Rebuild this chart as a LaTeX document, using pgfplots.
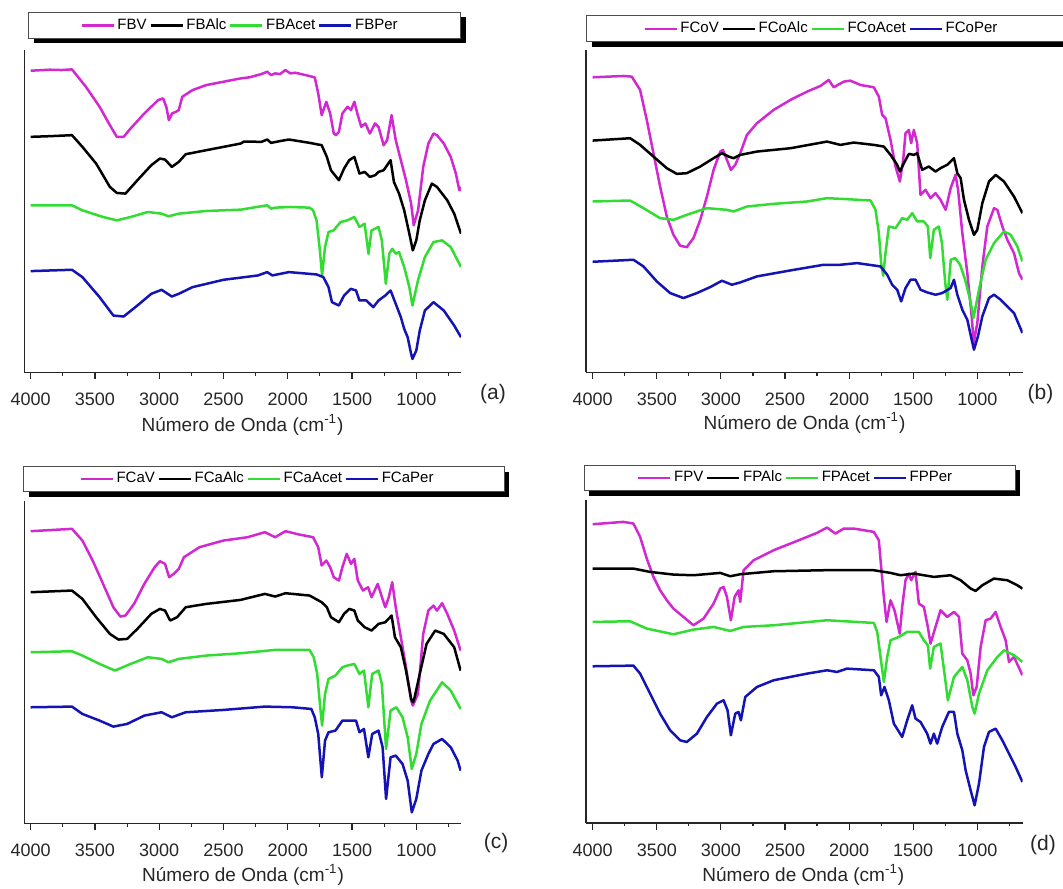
\documentclass[border=0pt]{standalone}
\usepackage{pgfplots}
\pgfplotsset{compat=1.18}
\usepackage{fontspec}
\setmainfont{Liberation Sans}
\definecolor{cmag}{RGB}{210,40,210}
\definecolor{cgrn}{RGB}{50,220,50}
\definecolor{cblu}{RGB}{20,20,180}
\pgfplotsset{ftir/.style={
  scale only axis, width=218.35pt, height=161.15pt,
  x dir=reverse,
  axis x line=bottom, axis y line=left,
  axis line style={-, line width=0.6pt, black!85},
  ytick=\empty,
  xtick={1000,1500,2000,2500,3000,3500,4000},
  minor xtick={750,1250,1750,2250,2750,3250,3750},
  tick align=outside, major tick length=3.3pt, minor tick length=1.7pt,
  tick style={line width=0.6pt, black!85},
  /pgf/number format/assume math mode=true,
  /pgf/number format/1000 sep={},
  xticklabel style={font=\fontsize{9}{10}\selectfont, text=black!85, yshift=-3.5pt},
  legend columns=4,
  legend cell align=left,
  legend style={draw=none, fill=none, anchor=center,
    font=\fontsize{7.5}{8}\selectfont, inner sep=0pt,
    nodes={inner xsep=1.4pt, inner ysep=1pt},
    /tikz/every even column/.append style={column sep=0pt}},
  legend image code/.code={\draw[#1,line width=1.1pt] (0pt,0pt) -- (16pt,0pt);},
  every axis plot/.append style={line width=1.25pt, line join=round},
}}
\begin{document}
\begin{tikzpicture}
\useasboundingbox (0pt,0pt) rectangle (531.5pt,-444pt);
% legend frames with shadows
\fill[black] (17.15pt,-8.65pt) rectangle (233pt,-21.65pt);
\draw[fill=white, draw=black!70, line width=0.5pt] (14.15pt,-6.15pt) rectangle (230pt,-19.15pt);
\fill[black] (295.85pt,-10.5pt) rectangle (540pt,-23.35pt);
\draw[fill=white, draw=black!70, line width=0.5pt] (293.35pt,-8pt) rectangle (537pt,-20.85pt);
\fill[black] (14.65pt,-235.85pt) rectangle (254.65pt,-248.35pt);
\draw[fill=white, draw=black!70, line width=0.5pt] (11.65pt,-233.35pt) rectangle (252pt,-245.5pt);
\fill[black] (294.65pt,-235pt) rectangle (510pt,-247.85pt);
\draw[fill=white, draw=black!70, line width=0.5pt] (292.15pt,-232.5pt) rectangle (507.5pt,-245.35pt);

% ---------- (a)
\begin{axis}[ftir, at={(12.15pt,-186.15pt)}, anchor=south west,
  xmin=652, xmax=4050, ymin=-1115, ymax=-150,
  legend style={at={(0.495,1.076)}}]
\addplot[cmag] coordinates {(4000,-212)(3850,-209)(3760,-210)(3679,-208)(3571,-260)(3464,-320)(3384,-375)(3330,-410)(3277,-410)(3223,-385)(3116,-340)(3009,-300)(2970,-295)(2945,-320)(2925,-360)(2900,-340)(2870,-335)(2848,-330)(2821,-290)(2741,-270)(2634,-255)(2500,-245)(2366,-235)(2300,-232)(2205,-222)(2160,-215)(2130,-225)(2098,-220)(2060,-222)(2018,-210)(1980,-220)(1941,-218)(1830,-228)(1790,-232)(1763,-280)(1736,-345)(1700,-305)(1670,-340)(1642,-400)(1625,-405)(1602,-395)(1575,-340)(1535,-320)(1508,-330)(1482,-305)(1455,-345)(1428,-380)(1396,-370)(1361,-400)(1321,-370)(1294,-380)(1254,-435)(1227,-420)(1192,-345)(1160,-420)(1120,-480)(1080,-540)(1040,-610)(1020,-675)(986,-630)(946,-500)(906,-430)(866,-400)(839,-405)(786,-430)(732,-470)(692,-520)(665,-570)(652,-560)};
\addlegendentry{FBV}
\addplot[black] coordinates {(4000,-410)(3850,-408)(3679,-405)(3598,-440)(3491,-490)(3384,-560)(3330,-578)(3263,-580)(3170,-540)(3062,-495)(2995,-475)(2955,-478)(2902,-500)(2848,-485)(2794,-462)(2634,-450)(2500,-440)(2366,-430)(2340,-424)(2205,-425)(2160,-418)(2130,-428)(2050,-422)(1991,-418)(1830,-428)(1736,-435)(1696,-470)(1664,-510)(1602,-540)(1562,-505)(1522,-480)(1482,-470)(1442,-520)(1402,-515)(1361,-530)(1321,-525)(1294,-515)(1254,-510)(1200,-480)(1174,-545)(1134,-580)(1094,-630)(1054,-700)(1027,-750)(1000,-720)(973,-660)(933,-600)(879,-550)(839,-560)(759,-600)(705,-640)(652,-700)};
\addlegendentry{FBAlc}
\addplot[cgrn] coordinates {(4000,-615)(3679,-615)(3598,-630)(3437,-650)(3330,-660)(3223,-650)(3089,-635)(2982,-640)(2928,-648)(2848,-640)(2634,-632)(2366,-628)(2160,-615)(2130,-625)(2098,-622)(1980,-620)(1830,-622)(1803,-630)(1776,-660)(1750,-750)(1733,-825)(1710,-740)(1683,-695)(1643,-690)(1589,-665)(1536,-660)(1482,-650)(1442,-680)(1402,-670)(1372,-760)(1348,-690)(1294,-680)(1268,-720)(1237,-850)(1210,-760)(1187,-745)(1160,-760)(1134,-755)(1094,-800)(1054,-860)(1030,-915)(987,-840)(933,-770)(866,-725)(799,-720)(732,-740)(652,-800)};
\addlegendentry{FBAcet}
\addplot[cblu] coordinates {(4000,-812)(3679,-808)(3598,-830)(3464,-890)(3357,-945)(3277,-948)(3170,-915)(3062,-880)(2982,-868)(2902,-888)(2848,-880)(2741,-860)(2500,-838)(2232,-825)(2160,-815)(2120,-825)(1991,-815)(1776,-822)(1723,-830)(1683,-860)(1656,-905)(1602,-915)(1562,-885)(1509,-865)(1469,-870)(1442,-900)(1388,-900)(1335,-920)(1294,-900)(1241,-885)(1200,-870)(1160,-910)(1120,-950)(1094,-985)(1067,-1010)(1040,-1060)(1030,-1075)(1000,-1050)(973,-990)(933,-930)(866,-905)(786,-930)(705,-975)(652,-1010)};
\addlegendentry{FBPer}
\end{axis}

% ---------- (b)
\begin{axis}[ftir, at={(293pt,-186.15pt)}, anchor=south west,
  xmin=646, xmax=4052, ymin=-1118, ymax=-150,
  legend style={at={(0.540,1.066)}}]
\addplot[cmag] coordinates {(4000,-232)(3760,-228)(3695,-230)(3630,-270)(3578,-360)(3526,-460)(3474,-560)(3422,-650)(3370,-705)(3318,-738)(3266,-742)(3214,-715)(3161,-660)(3109,-590)(3057,-510)(3005,-455)(2984,-450)(2953,-480)(2922,-510)(2888,-495)(2849,-460)(2797,-405)(2719,-370)(2589,-330)(2458,-300)(2328,-275)(2224,-258)(2159,-240)(2120,-262)(2042,-245)(1990,-242)(1911,-255)(1807,-262)(1768,-290)(1742,-345)(1716,-355)(1677,-420)(1638,-500)(1604,-545)(1578,-480)(1560,-400)(1534,-390)(1516,-430)(1495,-390)(1469,-430)(1443,-585)(1404,-570)(1365,-595)(1326,-580)(1287,-600)(1247,-630)(1208,-565)(1170,-525)(1150,-570)(1117,-700)(1078,-820)(1044,-950)(1028,-1030)(1000,-970)(961,-800)(922,-680)(870,-625)(844,-630)(805,-680)(766,-720)(714,-760)(675,-820)(648,-840)};
\addlegendentry{FCoV}
\addplot[black] coordinates {(4000,-422)(3708,-415)(3630,-435)(3526,-470)(3422,-505)(3344,-522)(3266,-520)(3161,-500)(3057,-475)(2992,-460)(2940,-470)(2901,-475)(2849,-465)(2719,-455)(2458,-445)(2172,-425)(2068,-435)(1964,-428)(1807,-435)(1729,-440)(1677,-465)(1625,-495)(1604,-515)(1573,-490)(1534,-462)(1495,-465)(1469,-460)(1430,-510)(1378,-500)(1326,-515)(1287,-505)(1235,-495)(1182,-475)(1156,-520)(1130,-535)(1104,-600)(1065,-660)(1026,-705)(1000,-690)(961,-610)(909,-545)(857,-525)(792,-545)(714,-590)(648,-640)};
\addlegendentry{FCoAlc}
\addplot[cgrn] coordinates {(4000,-605)(3708,-602)(3604,-625)(3474,-655)(3370,-660)(3266,-645)(3109,-625)(2953,-630)(2901,-635)(2797,-620)(2589,-612)(2328,-605)(2172,-595)(2016,-598)(1833,-602)(1794,-630)(1768,-700)(1750,-790)(1734,-828)(1716,-760)(1690,-680)(1638,-685)(1586,-655)(1547,-660)(1508,-640)(1469,-665)(1417,-665)(1386,-680)(1367,-775)(1339,-690)(1300,-680)(1276,-730)(1250,-850)(1234,-900)(1207,-780)(1173,-775)(1134,-795)(1095,-840)(1056,-900)(1030,-955)(987,-870)(935,-780)(870,-730)(792,-695)(740,-705)(688,-740)(648,-785)};
\addlegendentry{FCoAcet}
\addplot[cblu] coordinates {(4000,-786)(3682,-780)(3604,-800)(3500,-845)(3396,-880)(3292,-895)(3187,-880)(3083,-862)(2992,-843)(2914,-855)(2849,-848)(2719,-830)(2458,-812)(2198,-795)(2068,-795)(1937,-790)(1755,-800)(1703,-825)(1664,-855)(1625,-870)(1594,-905)(1560,-865)(1521,-840)(1482,-840)(1443,-870)(1391,-878)(1326,-885)(1274,-880)(1208,-865)(1182,-840)(1156,-885)(1117,-930)(1078,-960)(1047,-1015)(1026,-1050)(995,-1010)(961,-950)(909,-895)(870,-885)(818,-900)(766,-920)(714,-940)(648,-1000)};
\addlegendentry{FCoPer}
\end{axis}

% ---------- (c)
\begin{axis}[ftir, height=161.4pt, at={(12.15pt,-411.65pt)}, anchor=south west,
  xmin=652, xmax=4050, ymin=-1148, ymax=-180,
  legend style={at={(0.535,1.067)}}]
\addplot[cmag] coordinates {(4000,-272)(3679,-265)(3598,-300)(3518,-360)(3437,-430)(3357,-500)(3303,-528)(3263,-525)(3196,-490)(3116,-430)(3036,-380)(2995,-362)(2955,-370)(2923,-410)(2888,-400)(2848,-385)(2808,-350)(2687,-320)(2500,-300)(2312,-290)(2178,-275)(2098,-290)(2018,-272)(1911,-282)(1803,-290)(1763,-320)(1736,-375)(1700,-360)(1670,-380)(1642,-410)(1602,-420)(1575,-380)(1541,-340)(1508,-370)(1482,-355)(1455,-420)(1415,-450)(1375,-440)(1348,-470)(1300,-430)(1267,-470)(1241,-500)(1214,-470)(1187,-425)(1160,-500)(1120,-590)(1080,-680)(1040,-780)(1027,-795)(987,-760)(946,-580)(906,-510)(866,-495)(839,-510)(799,-488)(759,-520)(705,-570)(655,-630)};
\addlegendentry{FCaV}
\addplot[black] coordinates {(4000,-455)(3679,-450)(3598,-475)(3491,-530)(3384,-580)(3317,-597)(3250,-595)(3170,-565)(3062,-520)(2995,-505)(2955,-510)(2915,-540)(2861,-530)(2794,-500)(2634,-490)(2366,-478)(2178,-460)(2098,-468)(2018,-458)(1830,-465)(1736,-485)(1696,-500)(1664,-530)(1602,-545)(1562,-520)(1522,-505)(1482,-510)(1455,-540)(1402,-560)(1348,-570)(1294,-550)(1241,-545)(1192,-525)(1166,-590)(1120,-620)(1080,-690)(1040,-775)(1025,-785)(1013,-770)(973,-700)(920,-610)(853,-570)(786,-580)(705,-620)(655,-690)};
\addlegendentry{FCaAlc}
\addplot[cgrn] coordinates {(4000,-635)(3679,-632)(3598,-645)(3464,-670)(3344,-690)(3223,-670)(3089,-650)(2982,-655)(2928,-665)(2848,-655)(2634,-645)(2366,-638)(2098,-628)(1830,-628)(1798,-650)(1771,-700)(1750,-790)(1733,-855)(1710,-760)(1683,-715)(1629,-705)(1575,-680)(1536,-675)(1482,-670)(1442,-700)(1407,-690)(1373,-800)(1343,-700)(1294,-690)(1268,-730)(1235,-925)(1200,-810)(1155,-800)(1107,-830)(1067,-890)(1035,-985)(1000,-940)(960,-850)(893,-780)(799,-725)(732,-750)(655,-805)};
\addlegendentry{FCaAcet}
\addplot[cblu] coordinates {(4000,-800)(3679,-798)(3598,-820)(3464,-840)(3357,-858)(3250,-850)(3116,-825)(2982,-815)(2902,-830)(2794,-815)(2500,-808)(2178,-798)(1964,-800)(1817,-805)(1790,-830)(1763,-880)(1735,-1010)(1710,-900)(1683,-875)(1629,-870)(1575,-840)(1508,-840)(1469,-840)(1442,-875)(1407,-865)(1373,-950)(1343,-880)(1294,-870)(1262,-920)(1235,-1075)(1200,-950)(1160,-945)(1107,-970)(1067,-1020)(1035,-1115)(1000,-1075)(960,-990)(906,-940)(866,-910)(799,-895)(732,-920)(678,-960)(655,-990)};
\addlegendentry{FCaPer}
\end{axis}

% ---------- (d)
\begin{axis}[ftir, height=161.4pt, at={(293pt,-411.5pt)}, anchor=south west,
  xmin=646, xmax=4052, ymin=-1148, ymax=-180,
  legend style={at={(0.481,1.070)}}]
\addplot[cmag] coordinates {(4000,-252)(3760,-245)(3682,-250)(3630,-290)(3578,-355)(3526,-410)(3474,-450)(3422,-480)(3370,-505)(3292,-530)(3214,-555)(3135,-535)(3057,-490)(3005,-445)(2979,-440)(2953,-470)(2922,-540)(2893,-470)(2862,-450)(2849,-485)(2823,-390)(2745,-360)(2589,-330)(2458,-310)(2328,-290)(2250,-278)(2172,-262)(2107,-280)(2042,-265)(1964,-265)(1807,-275)(1768,-300)(1750,-380)(1729,-470)(1708,-545)(1677,-480)(1646,-510)(1605,-580)(1586,-500)(1560,-420)(1534,-400)(1516,-420)(1482,-395)(1456,-490)(1417,-500)(1386,-560)(1365,-610)(1326,-560)(1287,-510)(1235,-530)(1182,-515)(1143,-530)(1117,-640)(1078,-660)(1052,-700)(1031,-765)(1005,-740)(974,-620)(935,-540)(896,-535)(857,-515)(818,-560)(779,-600)(753,-665)(714,-650)(648,-705)};
\addlegendentry{FPV}
\addplot[black] coordinates {(4000,-385)(3682,-385)(3552,-395)(3370,-403)(3214,-405)(3005,-398)(2927,-408)(2849,-402)(2589,-393)(2198,-390)(1807,-390)(1677,-398)(1599,-405)(1495,-400)(1339,-410)(1208,-405)(1130,-420)(1052,-445)(1013,-452)(961,-435)(870,-415)(766,-420)(688,-435)(648,-445)};
\addlegendentry{FPAlc}
\addplot[cgrn] coordinates {(4000,-545)(3708,-543)(3578,-565)(3370,-582)(3214,-568)(3057,-560)(2927,-572)(2823,-560)(2589,-555)(2172,-540)(1807,-548)(1781,-575)(1755,-650)(1729,-725)(1703,-650)(1677,-600)(1612,-590)(1547,-575)(1456,-575)(1417,-600)(1386,-615)(1368,-685)(1339,-620)(1287,-610)(1256,-700)(1230,-780)(1182,-710)(1117,-680)(1078,-720)(1039,-800)(1021,-820)(987,-760)(922,-690)(844,-650)(792,-630)(714,-645)(648,-665)};
\addlegendentry{FPAcet}
\addplot[cblu] coordinates {(4000,-678)(3682,-676)(3630,-700)(3552,-760)(3474,-820)(3396,-870)(3318,-900)(3266,-905)(3187,-880)(3109,-830)(3031,-790)(2979,-780)(2948,-810)(2922,-885)(2888,-820)(2862,-815)(2844,-840)(2810,-770)(2719,-740)(2589,-720)(2328,-700)(2172,-690)(2094,-695)(2016,-685)(1807,-690)(1768,-710)(1750,-765)(1724,-740)(1690,-780)(1651,-850)(1586,-890)(1547,-840)(1508,-795)(1482,-835)(1443,-845)(1391,-880)(1365,-910)(1339,-880)(1313,-910)(1274,-860)(1222,-815)(1182,-815)(1156,-880)(1117,-930)(1091,-990)(1052,-1050)(1021,-1095)(987,-1030)(948,-920)(909,-875)(857,-865)(805,-900)(753,-940)(701,-980)(648,-1025)};
\addlegendentry{FPPer}
\end{axis}

% axis titles and panel labels
\begin{scope}[every node/.style={text=black!85}]
\node[font=\fontsize{9.5}{11}\selectfont] at (121.25pt,-212.5pt) {Número de Onda (cm\textsuperscript{-1})};
\node[font=\fontsize{9.5}{11}\selectfont] at (402.25pt,-211.5pt) {Número de Onda (cm\textsuperscript{-1})};
\node[font=\fontsize{9.5}{11}\selectfont] at (121.5pt,-437.5pt) {Número de Onda (cm\textsuperscript{-1})};
\node[font=\fontsize{9.5}{11}\selectfont] at (401.65pt,-437.5pt) {Número de Onda (cm\textsuperscript{-1})};
\node[font=\fontsize{10.5}{12}\selectfont] at (246.5pt,-197pt) {(a)};
\node[font=\fontsize{10.5}{12}\selectfont] at (520.25pt,-197pt) {(b)};
\node[font=\fontsize{10.5}{12}\selectfont] at (248pt,-421.5pt) {(c)};
\node[font=\fontsize{10.5}{12}\selectfont] at (521.5pt,-422.5pt) {(d)};
\end{scope}
\end{tikzpicture}
\end{document}
